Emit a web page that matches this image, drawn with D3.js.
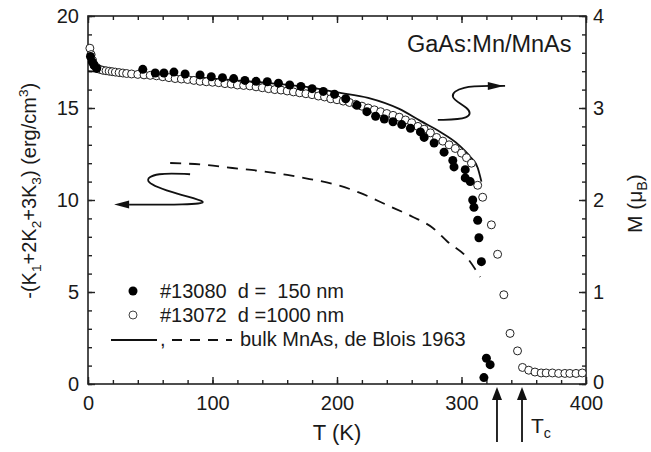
<!DOCTYPE html>
<html>
<head>
<meta charset="utf-8">
<script src="https://cdn.jsdelivr.net/npm/d3@7"></script>
<style>
body { margin: 0; background: #fff; }
text { font-family: Arial, "Liberation Sans", sans-serif; fill: #1a1a1a; }
</style>
</head>
<body>
<div id="root"></div>
<script>
const w = 651;
const h = 452;
const margin = {top: 16, right: 65, bottom: 68, left: 88};

// #13072, d = 1000 nm (open circles), M in mu_B
const openT = [1.5, 2.5, 3.5, 5, 7, 9.5, 12, 14.5, 17, 19.5, 22, 25, 28, 31, 35, 40, 45,
  50, 55, 60, 65, 70, 75, 80, 85, 90, 95, 100, 105, 110, 115, 120, 125, 130, 135, 140, 145,
  150, 155, 160, 165, 170, 175, 180, 185, 190, 195, 200, 205, 210, 215, 220, 225, 230, 235,
  240, 245, 250, 255, 260, 265, 270, 275, 280, 285, 290, 295, 300, 304, 308, 313, 317, 324,
  329, 334, 339, 345, 349, 354, 359, 364, 368, 373, 378, 383, 387, 392, 397];
const openM = [3.65, 3.58, 3.52, 3.47, 3.44, 3.42, 3.41, 3.405, 3.40, 3.395, 3.39, 3.385, 3.38, 3.375, 3.37, 3.365, 3.36,
  3.355, 3.35, 3.34, 3.33, 3.32, 3.315, 3.31, 3.30, 3.29, 3.285, 3.28, 3.275, 3.265, 3.26, 3.25, 3.245, 3.24, 3.23, 3.22, 3.21,
  3.20, 3.195, 3.185, 3.175, 3.165, 3.155, 3.145, 3.13, 3.12, 3.10, 3.09, 3.075, 3.06, 3.04, 3.02, 3.00, 2.98, 2.96,
  2.94, 2.92, 2.90, 2.87, 2.84, 2.80, 2.77, 2.73, 2.68, 2.64, 2.60, 2.56, 2.51, 2.46, 2.40, 2.16, 2.03, 1.73,
  1.41, 0.97, 0.55, 0.36, 0.18, 0.15, 0.13, 0.12, 0.12, 0.12, 0.115, 0.115, 0.115, 0.115, 0.12];

// #13080, d = 150 nm (filled circles)
const filledT = [2, 3.5, 5, 7, 44, 54, 61, 69, 78, 90, 99, 108, 117, 126, 135, 144, 153, 162, 171, 180,
  189, 198, 207, 216, 224, 231, 238, 245, 252, 259, 267, 270, 278, 286, 293, 294, 303, 303, 307, 309,
  310, 313, 314, 316, 320, 323, 318];
const filledM = [3.56, 3.50, 3.46, 3.43, 3.42, 3.38, 3.38, 3.39, 3.37, 3.36, 3.34, 3.33, 3.32, 3.30, 3.29, 3.285, 3.27, 3.25, 3.235, 3.21,
  3.18, 3.15, 3.10, 3.03, 2.96, 2.91, 2.88, 2.85, 2.82, 2.78, 2.74, 2.68, 2.62, 2.52, 2.43, 2.36, 2.33, 2.24, 2.20, 2.00,
  1.92, 1.78, 1.59, 1.33, 0.28, 0.21, 0.07];

// bulk MnAs, de Blois 1963: magnetization (solid) and anisotropy (dashed)
const bulkT = [0, 20, 50, 100, 150, 180, 200, 225, 250, 267, 283, 296, 307, 313, 316];
const bulkM = [3.40, 3.385, 3.36, 3.32, 3.265, 3.22, 3.17, 3.11, 2.99, 2.86, 2.74, 2.62, 2.47, 2.35, 2.20];
const bulkKT = [66, 96, 116, 138, 160, 178, 202, 218, 240, 261, 277, 289, 304, 315];
const bulkK = [12.01, 11.90, 11.74, 11.58, 11.36, 11.14, 10.78, 10.40, 9.73, 9.08, 8.48, 7.72, 6.90, 5.82];

const xMajor = [0, 100, 200, 300, 400];
const xMinor = d3.range(0, 401, 20);
const kMajor = [0, 5, 10, 15, 20];
const kMinor = d3.range(0, 21, 1);
const mMajor = [0, 1, 2, 3, 4];
const mMinor = d3.range(0, 4.01, 0.2);
const tcMarks = [328.5, 348.6];

const x = d3.scaleLinear().domain([0, 400]).range([margin.left, w - margin.right]);
const yK = d3.scaleLinear().domain([0, 20]).range([h - margin.bottom, margin.top]);
const yM = d3.scaleLinear().domain([0, 4]).range([h - margin.bottom, margin.top]);

const svg = d3.select("#root").append("svg").attr("width", w).attr("height", h);

// axes: major and minor ticks all pointing into the plot
function axisGroup(axis, tx, ty) {
  const g = svg.append("g").attr("transform", "translate(" + tx + "," + ty + ")").call(axis);
  g.select(".domain").remove();
  g.selectAll("line").attr("stroke", "#222").attr("stroke-width", 1.4);
  g.selectAll("text").attr("font-size", 20).style("fill", "#1a1a1a")
    .attr("font-family", "Arial, 'Liberation Sans', sans-serif");
  return g;
}
const yB = h - margin.bottom;
axisGroup(d3.axisBottom(x).tickValues(xMajor).tickSize(-7).tickPadding(12).tickFormat(d => d), 0, yB);
axisGroup(d3.axisBottom(x).tickValues(xMinor).tickSize(-4).tickFormat(""), 0, yB);
axisGroup(d3.axisTop(x).tickValues(xMajor).tickSize(-7).tickFormat(""), 0, margin.top);
axisGroup(d3.axisTop(x).tickValues(xMinor).tickSize(-4).tickFormat(""), 0, margin.top);
axisGroup(d3.axisLeft(yK).tickValues(kMajor).tickSize(-7).tickPadding(9).tickFormat(d => d), margin.left, 0);
axisGroup(d3.axisLeft(yK).tickValues(kMinor).tickSize(-4).tickFormat(""), margin.left, 0);
axisGroup(d3.axisRight(yM).tickValues(mMajor).tickSize(-7).tickPadding(7).tickFormat(d => d), w - margin.right, 0)
  .selectAll("text").attr("dy", (d, i) => d == 0 ? "0.22em" : "0.32em");
axisGroup(d3.axisRight(yM).tickValues(mMinor).tickSize(-4).tickFormat(""), w - margin.right, 0);

svg.append("rect")
  .attr("x", margin.left).attr("y", margin.top)
  .attr("width", w - margin.left - margin.right)
  .attr("height", h - margin.top - margin.bottom)
  .attr("fill", "none").attr("stroke", "#222").attr("stroke-width", 1.6);

// rich text helper: parts = [[text, "sub"|"sup"|null], ...]
function rich(sel, parts, size) {
  let shift = 0;
  parts.forEach(p => {
    const target = p[1] == "sub" ? 5 : p[1] == "sup" ? -8 : 0;
    sel.append("tspan")
      .attr("dy", target - shift)
      .attr("font-size", p[1] ? size * 0.68 : size)
      .text(p[0]);
    shift = target;
  });
}

// axis titles
svg.append("text").attr("x", x(200)).attr("y", 440)
  .attr("text-anchor", "middle").attr("font-size", 22).text("T (K)");

const ly = svg.append("text")
  .attr("transform", "translate(36," + yK(10.5) + ") rotate(-90)")
  .attr("text-anchor", "middle").style("white-space", "pre");
rich(ly, [["-(K", null], ["1", "sub"], ["+2K", null], ["2", "sub"], ["+3K", null], ["3", "sub"],
  [") (erg/cm", null], ["3", "sup"], [")", null]], 20);

const ry = svg.append("text")
  .attr("transform", "translate(642," + yM(1.64) + ") rotate(-90)")
  .attr("text-anchor", "start").style("white-space", "pre");
rich(ry, [["M (", null], ["\u03bc", null], ["B", "sub"], [")", null]], 21);

svg.append("text").attr("x", 407).attr("y", 52).attr("font-size", 23.5).text("GaAs:Mn/MnAs");

// bulk curves
svg.append("path")
  .datum(bulkT.map((t, i) => [t, bulkM[i]]))
  .attr("d", d3.line().x(d => x(d[0])).y(d => yM(d[1])).curve(d3.curveMonotoneX))
  .attr("fill", "none").attr("stroke", "#111").attr("stroke-width", 1.8);
svg.append("path")
  .datum(bulkKT.map((t, i) => [t, bulkK[i]]))
  .attr("d", d3.line().x(d => x(d[0])).y(d => yK(d[1])).curve(d3.curveMonotoneX))
  .attr("fill", "none").attr("stroke", "#111").attr("stroke-width", 1.8)
  .attr("stroke-dasharray", "11,8");

// data points
svg.selectAll("circle.open")
  .data(openT.map((t, i) => [t, openM[i]]))
  .enter().append("circle").attr("class", "open")
  .attr("cx", d => x(d[0])).attr("cy", d => yM(d[1])).attr("r", 4)
  .attr("fill", "#fff").attr("stroke", "#222").attr("stroke-width", 1);
svg.selectAll("circle.filled")
  .data(filledT.map((t, i) => [t, filledM[i]]))
  .enter().append("circle").attr("class", "filled")
  .attr("cx", d => x(d[0])).attr("cy", d => yM(d[1])).attr("r", 4.5)
  .attr("fill", "#000");

// curly arrows pointing to the axes
const curl = d3.line().curve(d3.curveBasis);
const leftCurl = [[82, 11.4], [55, 11.5], [42, 11.0], [72, 10.3], [100, 9.85], [80, 9.75], [33, 9.75]];
svg.append("path").attr("d", curl(leftCurl.map(d => [x(d[0]), yK(d[1])])))
  .attr("fill", "none").attr("stroke", "#111").attr("stroke-width", 1.8);
const rightCurl = [[281, 2.87], [308, 2.88], [307, 3.0], [288, 3.12], [300, 3.24], [325, 3.24], [335, 3.24]];
svg.append("path").attr("d", curl(rightCurl.map(d => [x(d[0]), yM(d[1])])))
  .attr("fill", "none").attr("stroke", "#111").attr("stroke-width", 1.8);

function head(tip, dir, len, half) {
  // dir: unit vector pointing toward the tip
  const bx = tip[0] - dir[0] * len, by = tip[1] - dir[1] * len;
  const px = -dir[1] * half, py = dir[0] * half;
  svg.append("path")
    .attr("d", "M" + tip[0] + "," + tip[1] + "L" + (bx + px) + "," + (by + py) +
      "L" + (bx - px) + "," + (by - py) + "Z")
    .attr("fill", "#111");
}
head([x(21), yK(9.75)], [-1, 0], 15, 4);
head([x(334), yM(3.24)], [1, 0], 16, 4);

// T_c arrows below the axis
tcMarks.forEach(t => {
  svg.append("line").attr("x1", x(t)).attr("x2", x(t)).attr("y1", 395).attr("y2", 442)
    .attr("stroke", "#111").attr("stroke-width", 1.8);
  head([x(t), 387], [0, -1], 13, 5);
});
const tc = svg.append("text").attr("x", 531).attr("y", 433);
rich(tc, [["T", null], ["c", "sub"]], 21);

// legend
const legend = svg.append("g").attr("id", "legend");
legend.append("circle").attr("cx", 133).attr("cy", 291).attr("r", 4.5).attr("fill", "#000");
legend.append("circle").attr("cx", 133).attr("cy", 315).attr("r", 4)
  .attr("fill", "#fff").attr("stroke", "#444").attr("stroke-width", 1);
legend.append("text").attr("x", 160).attr("y", 298).attr("font-size", 20)
  .style("white-space", "pre").text("#13080  d =  150 nm");
legend.append("text").attr("x", 160).attr("y", 322).attr("font-size", 20)
  .style("white-space", "pre").text("#13072  d =1000 nm");
legend.append("line").attr("x1", 111).attr("x2", 157).attr("y1", 340).attr("y2", 340)
  .attr("stroke", "#111").attr("stroke-width", 2);
legend.append("text").attr("x", 160).attr("y", 346).attr("font-size", 20).text(",");
legend.append("line").attr("x1", 172).attr("x2", 232).attr("y1", 340).attr("y2", 340)
  .attr("stroke", "#111").attr("stroke-width", 2).attr("stroke-dasharray", "10,8");
legend.append("text").attr("x", 240).attr("y", 346).attr("font-size", 20)
  .text("bulk MnAs, de Blois 1963");
</script>
</body>
</html>
